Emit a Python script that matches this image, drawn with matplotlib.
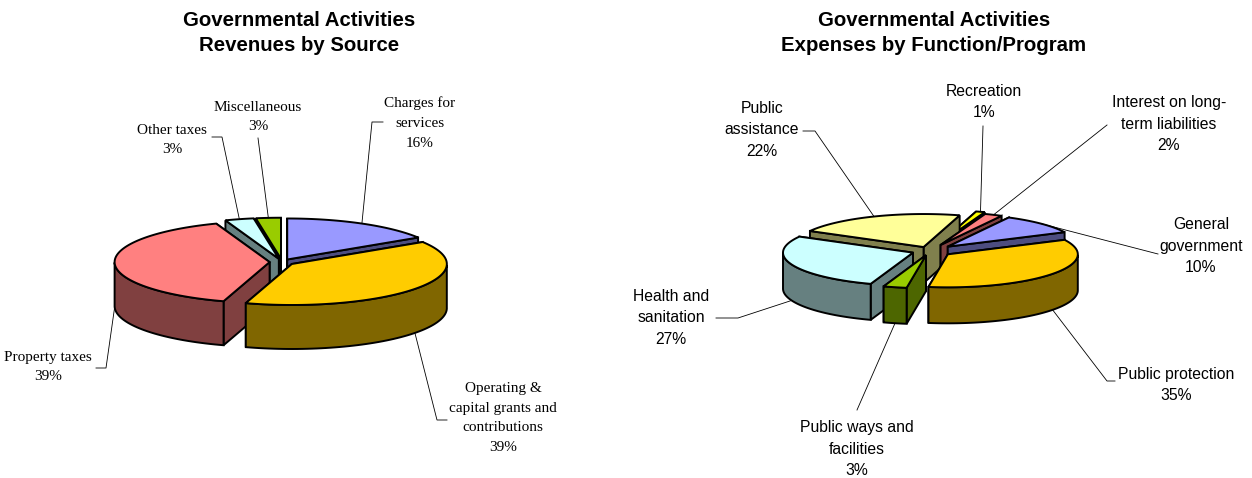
import numpy as np
import matplotlib
matplotlib.use("Agg")
import matplotlib.pyplot as plt
from matplotlib.patches import Polygon

# revenues (percent, the labels round these)
rev_labels = ["Charges for\nservices\n16%", "Operating &\ncapital grants and\ncontributions\n39%",
              "Property taxes\n39%", "Other taxes\n3%", "Miscellaneous\n3%"]
rev_values = [16.0, 38.8, 39.6, 3.0, 2.6]
rev_colors = ["#9999FF", "#FFCC00", "#FF8080", "#CCFFFF", "#99CC00"]
rev_explode = [0.07, 0.08, 0.08, 0.08, 0.08]

# expenses
exp_labels = ["General\ngovernment\n10%", "Public protection\n35%", "Public ways and\nfacilities\n3%",
              "Health and\nsanitation\n27%", "Public\nassistance\n22%", "Recreation\n1%",
              "Interest on long-\nterm liabilities\n2%"]
exp_values = [10.0, 34.6, 2.9, 27.8, 21.4, 1.1, 2.2]
exp_colors = ["#9999FF", "#FFCC00", "#99CC00", "#CCFFFF", "#FFFF99", "#FFFF00", "#FF8080"]
exp_explode = [0.19, 0.17, 0.13, 0.14, 0.13, 0.25, 0.20]

# label centre and the elbow of the leader line, in pixels
rev_text = [(420, 123), (503, 418), (48, 367), (172, 140), (258, 117)]
rev_elbow = [[(383, 122), (372, 122)], [(447, 420), (437, 420)], [(96, 368), (106, 368)],
             [(212, 137), (222, 137)], [(258, 138)]]
exp_text = [(1201, 246), (1176, 385), (857, 449), (671, 318), (762, 130), (984, 102), (1169, 124)]
exp_elbow = [[(1158, 254)], [(1115, 381), (1107, 381)], [(857, 410)], [(716, 318), (738, 318)],
             [(803, 131), (815, 131)], [(983, 126)], [(1107, 125)]]

font_sizes = {"Liberation Serif": 11, "Liberation Sans": 11.3}
line_gaps = {"Liberation Serif": 1.68, "Liberation Sans": 1.55}


def darker(c):
    return tuple(v * 0.5 for v in matplotlib.colors.to_rgb(c))


def pie3d(ax, values, colors, explode, labels, text_pos, elbows, cx, cy, rx, ry, depth, start, font):
    values = np.array(values)
    edges = start + np.concatenate([[0], np.cumsum(values)]) * 3.6
    mids = (edges[:-1] + edges[1:]) / 2
    # back slices first
    order = np.argsort(-np.cos(np.radians(mids)))
    for i in order:
        a0, a1, m = edges[i], edges[i + 1], np.radians(mids[i])
        x0 = cx + explode[i] * rx * np.sin(m)
        y0 = cy - explode[i] * ry * np.cos(m)
        t = np.radians(np.linspace(a0, a1, 80))
        ax_x = x0 + rx * np.sin(t)
        ax_y = y0 - ry * np.cos(t)
        side = darker(colors[i])
        kw = dict(edgecolor="black", linewidth=1.4, joinstyle="miter", zorder=2)
        # cut faces, the nearer one goes last so it hides the other
        ends = [0, -1] if ax_y[0] < ax_y[-1] else [-1, 0]
        for k in ends:
            ax.add_patch(Polygon([(x0, y0), (ax_x[k], ax_y[k]), (ax_x[k], ax_y[k] + depth), (x0, y0 + depth)],
                                 facecolor=side, **kw))
        # outer wall, only the part that faces the viewer
        front = np.cos(t) < 0
        if front.any():
            wx, wy = ax_x[front], ax_y[front]
            pts = list(zip(wx, wy)) + list(zip(wx[::-1], wy[::-1] + depth))
            ax.add_patch(Polygon(pts, facecolor=side, **kw))
        # top
        ax.add_patch(Polygon([(x0, y0)] + list(zip(ax_x, ax_y)), facecolor=colors[i], **kw))

        # leader line from the rim to the label
        lx = x0 + rx * np.sin(m)
        ly = y0 - ry * np.cos(m) + (depth if np.cos(m) < 0 else 0)
        path = elbows[i] + [(lx, ly)]
        ax.plot([p[0] for p in path], [p[1] for p in path], color="black", lw=0.6, zorder=3)
        ax.text(text_pos[i][0], text_pos[i][1], labels[i], ha="center", va="center",
                family=font, fontsize=font_sizes[font], linespacing=line_gaps[font], zorder=4)


fig = plt.figure(figsize=(12.52, 4.78), dpi=100)
ax = fig.add_axes([0, 0, 1, 1])
ax.set_xlim(0, 1252)
ax.set_ylim(478, 0)
ax.axis("off")

pie3d(ax, rev_values, rev_colors, rev_explode, rev_labels, rev_text, rev_elbow,
      282, 262, 155, 41, 44, 0, "Liberation Serif")
pie3d(ax, exp_values, exp_colors, exp_explode, exp_labels, exp_text, exp_elbow,
      930, 251, 130, 33, 36, 28, "Liberation Sans")

ax.text(299, 33, "Governmental Activities\nRevenues by Source", ha="center", va="center",
        family="Liberation Sans", weight="bold", fontsize=14.7, linespacing=1.35)
ax.text(934, 33, "Governmental Activities\nExpenses by Function/Program", ha="center", va="center",
        family="Liberation Sans", weight="bold", fontsize=14.7, linespacing=1.35)

fig.savefig("out.png", dpi=100)
